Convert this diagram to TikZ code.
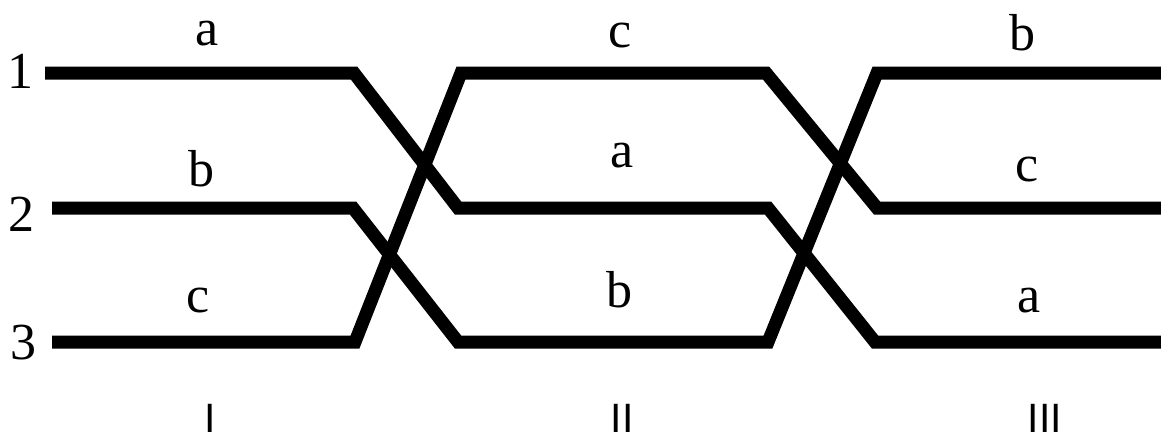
\documentclass[tikz,border=0pt]{standalone}
\usepackage{fontspec}
\setmainfont{Liberation Serif}
\newfontfamily\romanfont{Liberation Sans}
\begin{document}
\begin{tikzpicture}[x=1pt,y=-1pt,
  strand/.style={line width=13pt,line join=miter},
  lbl/.style={inner sep=0pt,anchor=base,font=\fontsize{52}{60}\selectfont},
  sec/.style={inner sep=0pt,anchor=base,font=\romanfont\fontsize{41}{48}\selectfont}]
\useasboundingbox (0,0) rectangle (1161,437);
% strands
\draw[strand] (45,73) -- (354,73) -- (458,208) -- (768,208) -- (875,342) -- (1161,342);
\draw[strand] (52,208) -- (353,208) -- (458,342) -- (768,342) -- (877,73) -- (1161,73);
\draw[strand] (52,342) -- (355,342) -- (461,73) -- (766,73) -- (877,208) -- (1161,208);
% row numbers
\node[lbl] (n1) at (20,88) {1};
\node[lbl] (n2) at (22,231) {2};
\node[lbl] (n3) at (23,359) {3};
% section I
\node[lbl] (Ia) at (207,45) {a};
\node[lbl] (Ib) at (201,186) {b};
\node[lbl] (Ic) at (198,312) {c};
% section II
\node[lbl] (IIc) at (620,47) {c};
\node[lbl] (IIa) at (622,167) {a};
\node[lbl] (IIb) at (619,307) {b};
% section III
\node[lbl] (IIIb) at (1022,50) {b};
\node[lbl] (IIIc) at (1027,181) {c};
\node[lbl] (IIIa) at (1029,312) {a};
% section numerals
\node[sec] (sI) at (210,432) {I};
\node[sec] (sII) at (622,432) {II};
\node[sec] (sIII) at (1045,432) {III};
\end{tikzpicture}
\end{document}
